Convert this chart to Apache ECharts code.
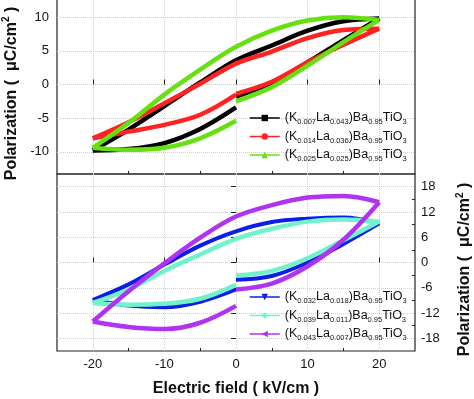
<!DOCTYPE html>
<html>
<head>
<meta charset="utf-8">
<script src="https://cdn.jsdelivr.net/npm/echarts@6/dist/echarts.min.js"></script>
<style>
  html, body { margin: 0; padding: 0; background: #fff; }
  #chart { width: 474px; height: 399px; }
</style>
</head>
<body>
<div id="chart"></div>
<script>
// field values (kV/cm) for the three parts of each loop
const fieldStart = [0, 5, 10, 15, 20];
const fieldDown = [20, 15, 10, 5, 0, -5, -10, -15, -20];
const fieldReturn = [-20, -15, -10, -5, 0];

// top panel, polarization (uC/cm2)
const k007Start = [-1.8, 0.3, 3.3, 6.6, 9.8];
const k007Down = [9.8, 9.4, 8.0, 5.8, 3.6, 0.3, -3.2, -6.7, -9.8];
const k007Return = [-9.8, -9.6, -8.7, -6.6, -3.4];

const k014Start = [-1.4, 0.4, 3.3, 5.9, 8.3];
const k014Down = [8.3, 8.1, 6.9, 4.9, 3.1, 0.1, -2.8, -5.6, -8.0];
const k014Return = [-8.0, -7.0, -6.0, -4.5, -1.5];

const k025Start = [-2.5, -0.4, 2.8, 6.3, 9.6];
const k025Down = [9.6, 10.0, 9.5, 8.0, 5.6, 2.2, -1.5, -5.7, -9.4];
const k025Return = [-9.4, -9.7, -9.4, -8.0, -5.4];

// bottom panel
const k032Start = [-4.1, -3.2, 0.0, 4.4, 9.3];
const k032Down = [9.3, 10.7, 10.4, 9.6, 7.4, 4.0, -0.5, -5.2, -8.9];
const k032Return = [-8.9, -10.2, -10.6, -9.3, -6.4];

const k039Start = [-3.1, -2.0, 1.0, 5.3, 9.7];
const k039Down = [9.7, 10.2, 9.7, 8.0, 5.6, 1.9, -2.0, -6.4, -9.6];
const k039Return = [-9.6, -10.0, -9.8, -8.6, -5.3];

const k043Start = [-6.4, -5.0, -0.9, 5.4, 14.3];
const k043Down = [14.3, 15.8, 15.4, 13.6, 10.9, 5.9, -0.2, -6.8, -14.0];
const k043Return = [-14.0, -15.3, -15.8, -14.3, -10.3];

// composition labels
const topK = ["0.007", "0.014", "0.025"];
const topLa = ["0.043", "0.036", "0.025"];
const bottomK = ["0.032", "0.039", "0.043"];
const bottomLa = ["0.018", "0.011", "0.007"];

// ticks
const xLabelTicks = [-20, -10, 0, 10, 20];
const xMinorTicks = [-15, -5, 5, 15];
const topYTicks = [-10, -5, 0, 5, 10];
const bottomYTicks = [-18, -12, -6, 0, 6, 12, 18];
const bottomYMinor = [-15, -9, -3, 3, 9, 15];

const FONT = "Liberation Sans, Arial, sans-serif";

function pairs(xs, ys) {
  return xs.map(function(x, i) { return [x, ys[i]]; });
}

function legendName(k, la) {
  return "(K{s|" + k + "}La{s|" + la + "})Ba{s|0.95}TiO{s|3}";
}

let series = [];
function addLoop(name, color, symbol, parts, xi, yi, width) {
  parts.forEach(function(p) {
    series.push({
      name: name,
      type: "line",
      xAxisIndex: xi,
      yAxisIndex: yi,
      data: pairs(p[0], p[1]),
      smooth: 0.35,
      symbol: symbol,
      symbolSize: 7,
      showSymbol: false,
      lineStyle: { color: color, width: width },
      itemStyle: { color: color }
    });
  });
}

const topNames = topK.map(function(k, i) { return legendName(k, topLa[i]); });
const bottomNames = bottomK.map(function(k, i) { return legendName(k, bottomLa[i]); });

addLoop(topNames[0], "#000000", "rect",
  [[fieldStart, k007Start], [fieldDown, k007Down], [fieldReturn, k007Return]], 0, 0, 4.5);
addLoop(topNames[1], "#ff2222", "circle",
  [[fieldStart, k014Start], [fieldDown, k014Down], [fieldReturn, k014Return]], 0, 0, 4.5);
addLoop(topNames[2], "#66e010", "triangle",
  [[fieldStart, k025Start], [fieldDown, k025Down], [fieldReturn, k025Return]], 0, 0, 4.5);

addLoop(bottomNames[0], "#0a1ee6", "path://M0,0 L10,0 L5,10 Z",
  [[fieldStart, k032Start], [fieldDown, k032Down], [fieldReturn, k032Return]], 2, 1, 4);
addLoop(bottomNames[1], "#72f2cc", "diamond",
  [[fieldStart, k039Start], [fieldDown, k039Down], [fieldReturn, k039Return]], 2, 1, 4.5);
addLoop(bottomNames[2], "#b033f0", "path://M0,5 L10,0 L10,10 Z",
  [[fieldStart, k043Start], [fieldDown, k043Down], [fieldReturn, k043Return]], 2, 1, 4.5);

const gridLine = { show: true, lineStyle: { color: "#cfcfcf", type: "dotted", width: 1 } };
const tickLine = { color: "#222", width: 1 };
function nameStyle(shift) {
  return {
    fontFamily: FONT, fontSize: 16, fontWeight: "bold", color: "#111",
    padding: [0, shift, 0, 0],
    rich: { sup: { fontFamily: FONT, fontSize: 10, fontWeight: "bold", color: "#111", verticalAlign: "top", padding: [0, 0, 10, 0] } }
  };
}
const legendText = {
  fontFamily: FONT, fontSize: 12.5, color: "#111", lineHeight: 16,
  rich: { s: { fontFamily: FONT, fontSize: 7.5, color: "#111", verticalAlign: "bottom", lineHeight: 16, padding: [8, 0, 0, 0] } }
};

const chart = echarts.init(document.getElementById("chart"), null, { renderer: "canvas" });
chart.setOption({
  animation: false,
  backgroundColor: "#fff",
  grid: [
    { left: 57, right: 59, top: -3, height: 177, show: true, borderColor: "#222", borderWidth: 1.2,
      outerBoundsMode: "none", containLabel: false },
    { left: 57, right: 59, top: 174, height: 177, show: true, borderColor: "#222", borderWidth: 1.2,
      outerBoundsMode: "none", containLabel: false }
  ],
  legend: [
    {
      data: topNames, orient: "vertical", left: 244, top: 105, itemGap: 2.5,
      itemWidth: 30, itemHeight: 8, textStyle: legendText, lineStyle: { width: 1.5 },
      selectedMode: false
    },
    {
      data: bottomNames, orient: "vertical", left: 244, top: 284, itemGap: 2.5,
      itemWidth: 30, itemHeight: 8, textStyle: legendText, lineStyle: { width: 1.5 },
      selectedMode: false
    }
  ],
  xAxis: [
    {
      gridIndex: 0, type: "value", min: -25, max: 25, position: "bottom",
      axisLine: { show: false }, axisLabel: { show: false },
      axisTick: { show: true, inside: true, length: 5, customValues: xLabelTicks, lineStyle: tickLine },
      splitLine: gridLine
    },
    {
      gridIndex: 0, type: "value", min: -25, max: 25, position: "top", offset: -177,
      axisLine: { show: false }, axisLabel: { show: false }, splitLine: { show: false },
      axisTick: { show: true, inside: false, length: 3, customValues: xMinorTicks, lineStyle: tickLine }
    },
    {
      gridIndex: 1, type: "value", min: -25, max: 25, position: "bottom",
      axisLine: { show: false },
      axisLabel: { customValues: xLabelTicks, fontFamily: FONT, fontSize: 13, color: "#111", margin: 7 },
      axisTick: { show: true, inside: true, length: 5, customValues: xLabelTicks, lineStyle: tickLine },
      splitLine: gridLine,
      name: "Electric field ( kV/cm )", nameLocation: "middle", nameGap: 30,
      nameTextStyle: nameStyle(0)
    },
    {
      gridIndex: 1, type: "value", min: -25, max: 25, position: "top", offset: -177,
      axisLine: { show: false }, axisLabel: { show: false }, splitLine: { show: false },
      axisTick: { show: true, inside: false, length: 3, customValues: xMinorTicks, lineStyle: tickLine }
    }
  ],
  yAxis: [
    {
      gridIndex: 0, type: "value", min: -13.3, max: 13, position: "left",
      axisLine: { show: false },
      axisLabel: { customValues: topYTicks, fontFamily: FONT, fontSize: 13, color: "#111", margin: 8 },
      axisTick: { show: false, customValues: topYTicks },
      splitLine: gridLine,
      name: "Polarization (  \u03bcC/cm{sup|2} )", nameLocation: "middle", nameGap: 35,
      nameRotate: 90, nameTextStyle: nameStyle(16)
    },
    {
      gridIndex: 1, type: "value", min: -21, max: 21, position: "right",
      axisLine: { show: false },
      axisLabel: { customValues: bottomYTicks, fontFamily: FONT, fontSize: 13, color: "#111", margin: 6 },
      axisTick: { show: true, inside: true, length: 5, customValues: bottomYTicks, lineStyle: tickLine },
      splitLine: gridLine,
      name: "Polarization (  \u03bcC/cm{sup|2} )", nameLocation: "middle", nameGap: 40,
      nameRotate: 90, nameTextStyle: nameStyle(14)
    },
    {
      gridIndex: 1, type: "value", min: -21, max: 21, position: "left", offset: -358,
      axisLine: { show: false }, axisLabel: { show: false }, splitLine: { show: false },
      axisTick: { show: true, inside: false, length: 3, customValues: bottomYMinor, lineStyle: tickLine }
    }
  ],
  series: series
});
</script>
</body>
</html>
